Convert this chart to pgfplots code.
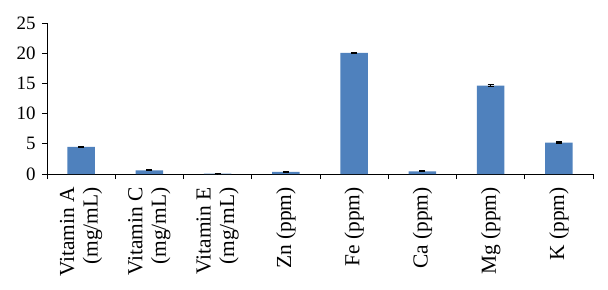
\documentclass[border=0pt]{standalone}
\usepackage{pgfplots}
\pgfplotsset{compat=1.18}
\usepackage{fontspec}
\setmainfont{Liberation Serif}
\definecolor{barblue}{RGB}{79,129,189}
\pgfplotstableread{
x y err
0 4.48 0.10
1 0.60 0.08
2 0.05 0.02
3 0.35 0.08
4 20.05 0.10
5 0.45 0.08
6 14.65 0.12
7 5.20 0.10
}\datatable
\begin{document}
\begin{tikzpicture}
\useasboundingbox (-47bp,-116bp) rectangle (561bp,174bp);
\begin{axis}[
  name=ax,
  at={(0,0)}, anchor=south west,
  scale only axis,
  width=546bp, height=151bp,
  xmin=-0.5, xmax=7.5,
  ymin=0, ymax=25,
  axis x line=bottom, axis y line=left,
  axis line style={-, black, line width=0.8pt},
  xtick={-0.5,0.5,...,7.5},
  x tick label as interval,
  xticklabels={{Vitamin A\\(mg/mL)},{Vitamin C\\(mg/mL)},{Vitamin E\\(mg/mL)},{Zn (ppm)},{Fe (ppm)},{Ca (ppm)},{Mg (ppm)},{K (ppm)}},
  xticklabel style={rotate=90, anchor=east, align=right, font=\fontsize{21.5}{23.5}\selectfont, inner sep=0pt},
  ytick={0,5,...,25},
  yticklabel style={font=\fontsize{19}{21}\selectfont},
  /pgf/number format/assume math mode=true,
  tick align=outside,
  major tick length=5bp,
  tick style={black, line width=0.8pt},
  xticklabel shift=8bp,
  yticklabel shift=3bp,
  clip=false,
]
\addplot[ybar, bar width=0.4, fill=barblue, draw=none,
  error bars/.cd, y dir=both, y explicit,
  error bar style={black, line width=0.8pt},
  error mark options={black, rotate=90, mark size=3bp, line width=1.2pt}]
  table[x=x, y=y, y error=err]{\datatable};
\end{axis}
\end{tikzpicture}
\end{document}
